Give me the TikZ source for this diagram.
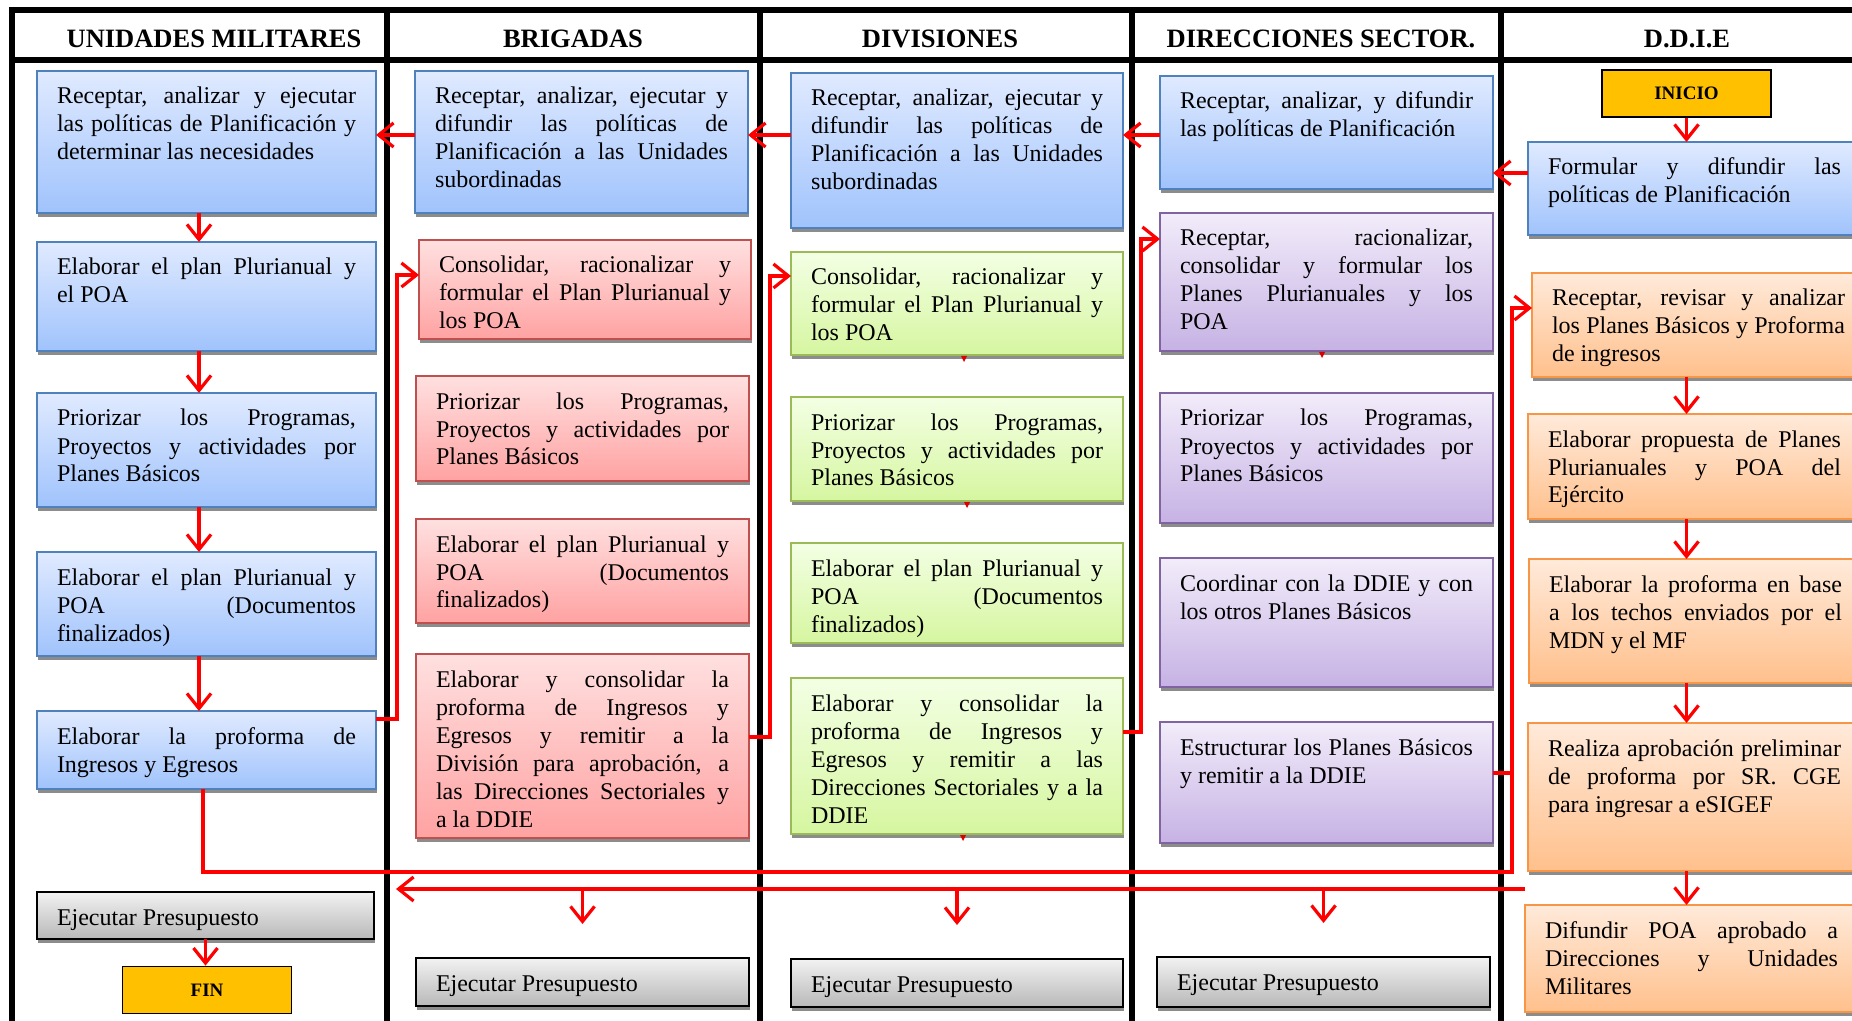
\documentclass[tikz,border=0pt]{standalone}
\usepackage{fontspec}
\setmainfont{Liberation Serif}
\usetikzlibrary{arrows.meta,shadows}
\hyphenpenalty=10000
\exhyphenpenalty=10000
\tolerance=10000
\hbadness=10000

\definecolor{azulA}{RGB}{224,234,255}
\definecolor{azulB}{RGB}{160,195,252}
\definecolor{azulL}{RGB}{79,129,189}
\definecolor{rojoA}{RGB}{255,224,224}
\definecolor{rojoB}{RGB}{255,162,162}
\definecolor{rojoL}{RGB}{192,80,77}
\definecolor{verdeA}{RGB}{243,255,228}
\definecolor{verdeB}{RGB}{214,246,160}
\definecolor{verdeL}{RGB}{155,187,89}
\definecolor{moradoA}{RGB}{242,236,250}
\definecolor{moradoB}{RGB}{198,178,228}
\definecolor{moradoL}{RGB}{128,100,162}
\definecolor{naranjaA}{RGB}{255,234,218}
\definecolor{naranjaB}{RGB}{255,192,140}
\definecolor{naranjaL}{RGB}{247,150,70}
\definecolor{grisA}{RGB}{242,242,242}
\definecolor{grisB}{RGB}{184,184,184}
\definecolor{amarillo}{RGB}{255,192,0}

\tikzset{
  caja/.style={anchor=north west, line width=0.75pt, align=justify,
    inner xsep=10pt, inner ysep=0pt, outer sep=0pt, text height=16.5pt,
    font=\fontsize{12}{14}\selectfont,
    drop shadow={shadow xshift=0.5pt, shadow yshift=-2pt, fill=black!45, opacity=1}},
  azul/.style={caja, draw=azulL, top color=azulA, bottom color=azulB},
  rojo/.style={caja, draw=rojoL, top color=rojoA, bottom color=rojoB},
  verde/.style={caja, draw=verdeL, top color=verdeA, bottom color=verdeB},
  morado/.style={caja, draw=moradoL, top color=moradoA, bottom color=moradoB},
  naranja/.style={caja, draw=naranjaL, top color=naranjaA, bottom color=naranjaB},
  gris/.style={caja, draw=black, line width=1pt, top color=grisA, bottom color=grisB},
  limite/.style={draw=black, line width=0.9pt, fill=amarillo, minimum width=84.5pt,
    minimum height=23.5pt, font=\fontsize{9.5}{11}\selectfont\bfseries},
  titulo/.style={anchor=base, font=\fontsize{13.25}{15}\selectfont\bfseries},
  marco/.style={line width=3pt},
  flecha/.style={draw=red, line width=1.6pt, -{Straight Barb[length=7.5pt,width=12pt]}},
  linea/.style={draw=red, line width=1.6pt},
  marca/.style={fill=red!85!black}
}

\begin{document}
\begin{tikzpicture}[x=0.5pt,y=-0.5pt]
\useasboundingbox (0,0) rectangle (1852,1021);
\clip (0,0) rectangle (1852,1021);
% marco y columnas
\draw[marco] (12,10) rectangle (1890,1040);
\draw[marco] (12,60) -- (1890,60);
\foreach \x in {387,760,1132,1501}
	\draw[marco] (\x,10) -- (\x,1040);
\node[titulo] (t1) at (214,48) {UNIDADES MILITARES};
\node[titulo] (t2) at (573,48) {BRIGADAS};
\node[titulo] (t3) at (940,48) {DIVISIONES};
\node[titulo] (t4) at (1321,48) {DIRECCIONES SECTOR.};
\node[titulo] (t5) at (1687,48) {D.D.I.E};
% unidades militares
\node[azul, text width=149.5pt, text depth=54.5pt] (um1) at (37,71) {Receptar, analizar y ejecutar\linebreak las políticas de Planificación y\linebreak determinar las necesidades};
\node[azul, text width=149.5pt, text depth=38pt] (um2) at (37,242) {Elaborar el plan Plurianual y\linebreak el POA};
\node[azul, text width=149.5pt, text depth=40.5pt] (um3) at (37,393) {Priorizar los Programas,\linebreak Proyectos y actividades por\linebreak Planes Básicos};
\node[azul, text width=149.5pt, text depth=35.5pt] (um4) at (37,552) {Elaborar el plan Plurianual y\linebreak POA (Documentos\linebreak finalizados)};
\node[azul, text width=149.5pt, text depth=22.5pt] (um5) at (37,711) {Elaborar la proforma de\linebreak Ingresos y Egresos};
\node[gris, text width=148.5pt, text depth=7pt] (um6) at (37,892) {Ejecutar Presupuesto};
\node[limite] (fin) at (207,990) {FIN};
% brigadas
\node[azul, text width=146.5pt, text depth=54.5pt] (br1) at (415,71) {Receptar, analizar, ejecutar y\linebreak difundir las políticas de\linebreak Planificación a las Unidades\linebreak subordinadas};
\node[rojo, text width=146pt, text depth=33pt] (br2) at (419,240) {Consolidar, racionalizar y\linebreak formular el Plan Plurianual y\linebreak los POA};
\node[rojo, text width=146.5pt, text depth=36pt] (br3) at (416,376) {Priorizar los Programas,\linebreak Proyectos y actividades por\linebreak Planes Básicos};
\node[rojo, text width=146.5pt, text depth=35.5pt] (br4) at (416,519) {Elaborar el plan Plurianual y\linebreak POA (Documentos\linebreak finalizados)};
\node[rojo, text width=146.5pt, text depth=75.5pt] (br5) at (416,654) {Elaborar y consolidar la\linebreak proforma de Ingresos y\linebreak Egresos y remitir a la\linebreak División para aprobación, a\linebreak las Direcciones Sectoriales y\linebreak a la DDIE};
\node[gris, text width=146.5pt, text depth=7.5pt] (br6) at (416,958) {Ejecutar Presupuesto};
% divisiones
\node[azul, text width=146pt, text depth=61pt] (dv1) at (791,73) {Receptar, analizar, ejecutar y\linebreak difundir las políticas de\linebreak Planificación a las Unidades\linebreak subordinadas};
\node[verde, text width=146pt, text depth=35pt] (dv2) at (791,252) {Consolidar, racionalizar y\linebreak formular el Plan Plurianual y\linebreak los POA};
\node[verde, text width=146pt, text depth=35.5pt] (dv3) at (791,397) {Priorizar los Programas,\linebreak Proyectos y actividades por\linebreak Planes Básicos};
\node[verde, text width=146pt, text depth=33.5pt] (dv4) at (791,543) {Elaborar el plan Plurianual y\linebreak POA (Documentos\linebreak finalizados)};
\node[verde, text width=146pt, text depth=61.5pt] (dv5) at (791,678) {Elaborar y consolidar la\linebreak proforma de Ingresos y\linebreak Egresos y remitir a las\linebreak Direcciones Sectoriales y a la\linebreak DDIE};
\node[gris, text width=146pt, text depth=7.5pt] (dv6) at (791,959) {Ejecutar Presupuesto};
% direcciones sectoriales
\node[azul, text width=146.5pt, text depth=40pt] (dr1) at (1160,76) {Receptar, analizar, y difundir\linebreak las políticas de Planificación};
\node[morado, text width=146.5pt, text depth=52.5pt] (dr2) at (1160,213) {Receptar, racionalizar,\linebreak consolidar y formular los\linebreak Planes Plurianuales y los\linebreak POA};
\node[morado, text width=146.5pt, text depth=48.5pt] (dr3) at (1160,393) {Priorizar los Programas,\linebreak Proyectos y actividades por\linebreak Planes Básicos};
\node[morado, text width=146.5pt, text depth=48pt] (dr4) at (1160,558) {Coordinar con la DDIE y con\linebreak los otros Planes Básicos};
\node[morado, text width=146.5pt, text depth=44pt] (dr5) at (1160,722) {Estructurar los Planes Básicos\linebreak y remitir a la DDIE};
\node[gris, text width=146.5pt, text depth=8.5pt] (dr6) at (1157,957) {Ejecutar Presupuesto};
% d.d.i.e
\node[limite] (inicio) at (1686.5,93.5) {INICIO};
\node[azul, text width=146.5pt, text depth=30pt] (dd1) at (1528,142) {Formular y difundir las\linebreak políticas de Planificación};
\node[naranja, text width=146.5pt, text depth=35.5pt] (dd2) at (1532,273) {Receptar, revisar y analizar\linebreak los Planes Básicos y Proforma\linebreak de ingresos};
\node[naranja, text width=146.5pt, text depth=36pt] (dd3) at (1528,414) {Elaborar propuesta de Planes\linebreak Plurianuales y POA del\linebreak Ejército};
\node[naranja, text width=146.5pt, text depth=45.5pt] (dd4) at (1529,559) {Elaborar la proforma en base\linebreak a los techos enviados por el\linebreak MDN y el MF};
\node[naranja, text width=146.5pt, text depth=57.5pt] (dd5) at (1528,723) {Realiza aprobación preliminar\linebreak de proforma por SR. CGE\linebreak para ingresar a eSIGEF};
\node[naranja, text width=146.5pt, text depth=37pt] (dd6) at (1525,905) {Difundir POA aprobado a\linebreak Direcciones y Unidades\linebreak Militares};
% flechas dentro de cada columna
\foreach \a/\b in {um1/um2,um2/um3,um3/um4,um4/um5}
	\draw[flecha] ([xshift=-3.75pt]\a.south) -- ([xshift=-3.75pt]\b.north);
\draw[flecha] (um6.south) -- (um6.south |- fin.north);
\draw[flecha] (inicio.south) -- (inicio.south |- dd1.north);
\foreach \a/\b in {dd2/dd3,dd3/dd4,dd4/dd5,dd5/dd6}
	\draw[flecha] (inicio.south |- \a.south) -- (inicio.south |- \b.north);
% politicas hacia la izquierda
\coordinate (f1) at ([yshift=3.5pt]br1.east);
\draw[flecha] ([yshift=3.5pt]br1.west) -- ([yshift=3.5pt]um1.east);
\draw[flecha] (dv1.west |- f1) -- (f1);
\draw[flecha] (dr1.west |- f1) -- (dv1.east |- f1);
\coordinate (f2) at ([yshift=7.75pt]dd1.west);
\draw[flecha] (f2) -- (dr1.east |- f2);
% proformas hacia la derecha
\draw[flecha] ([yshift=15.5pt]um5.east) -| ([xshift=-11pt,yshift=7.25pt]br2.west) -- ([yshift=7.25pt]br2.west);
\draw[flecha] ([yshift=4.5pt]br5.east) -| ([xshift=-10.5pt,yshift=13.75pt]dv2.west) -- ([yshift=13.75pt]dv2.west);
\draw[flecha] ([yshift=12pt]dv5.east) -| ([xshift=-9.5pt,yshift=21.5pt]dr2.west) -- ([yshift=21.5pt]dr2.west);
\coordinate (esq) at (1512,872);
\draw[flecha] ([xshift=-1.75pt]um5.south) |- (esq) -- ([xshift=-10pt,yshift=8.5pt]dd2.west) -- ([yshift=8.5pt]dd2.west);
\coordinate (d5) at ([yshift=4.75pt]dr5.east);
\draw[linea] (d5) -- (d5 -| esq);
% difusion del POA aprobado
\coordinate (rep) at ([yshift=8pt]dd6.north west);
\coordinate (ret) at ([xshift=11pt]um6.north east);
\draw[flecha] (rep) -- (ret |- rep);
\foreach \n in {br6,dv6,dr6}
	\draw[flecha] (\n.north |- rep) -- ([yshift=17pt]\n.north);
\foreach \n/\d in {dv2/3.5pt,dv3/5pt,dv5/3pt,dr2/-2.25pt}
	\fill[marca] ([xshift=\d]\n.south) ++(-3,1) -- ++(6,0) -- ++(-3,6) -- cycle;
\end{tikzpicture}
\end{document}
